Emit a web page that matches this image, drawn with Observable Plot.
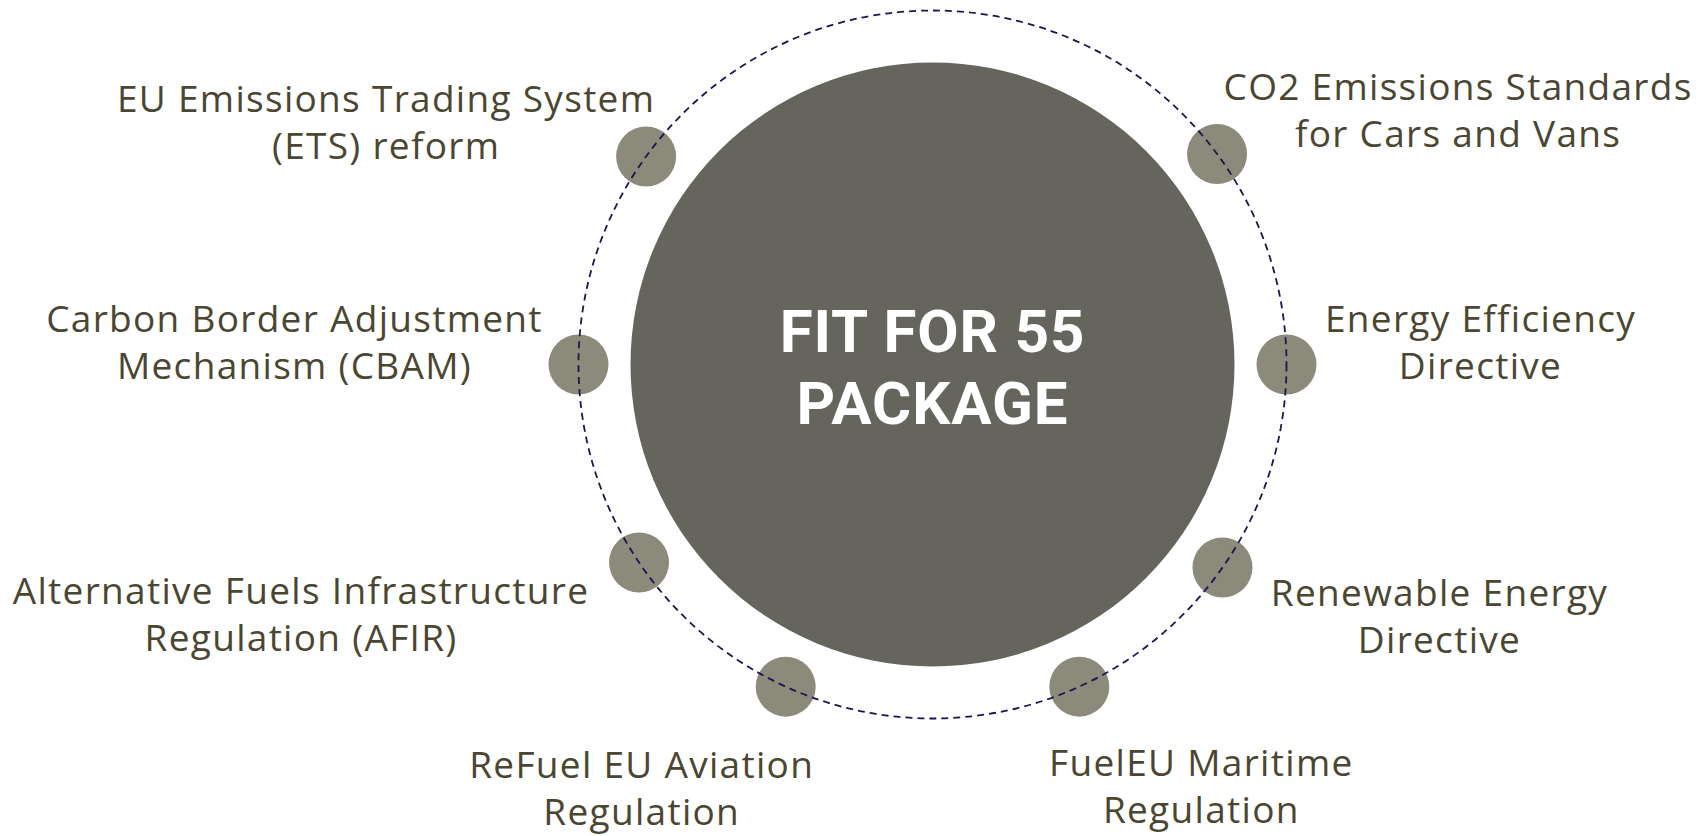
<!DOCTYPE html>
<html>
<head>
<meta charset="utf-8">
<script src="https://cdn.jsdelivr.net/npm/d3@7"></script>
<script src="https://cdn.jsdelivr.net/npm/@observablehq/plot@0.6"></script>
<style>
  html, body { margin: 0; padding: 0; background: #ffffff; }
  #chart svg { display: block; }
</style>
</head>
<body>
<div id="chart"></div>
<script>
// ---- data ----
const policies = [
  "EU Emissions Trading System\n(ETS) reform",
  "CO2 Emissions Standards\nfor Cars and Vans",
  "Carbon Border Adjustment\nMechanism (CBAM)",
  "Energy Efficiency\nDirective",
  "Alternative Fuels Infrastructure\nRegulation (AFIR)",
  "Renewable Energy\nDirective",
  "ReFuel EU Aviation\nRegulation",
  "FuelEU Maritime\nRegulation"
];
// angular position of each policy on the ring (degrees, counter-clockwise from 3 o'clock)
const anglesDeg = [144, 36.5, 180, 0, 214, 325, 245.5, 294.5];
const centreTitle = ["FIT FOR 55\nPACKAGE"];

// ---- layout (pixels) ----
const W = 1700, H = 836;
const CX = 932, CY = 364;     // centre of the ring
const R = 354;                // ring radius
const discR = 302, nodeR = 30;
const labelFont = 37;
// label centre offset from its node, px (right, down)
const labelOffset = [[-260, -36], [241, -45], [-284, -24], [194, -24], [-338, 50], [217, 47], [-144, 100], [122, 98]];

const nodes = policies.map((label, i) => {
  const a = anglesDeg[i] * Math.PI / 180;
  return {
    label,
    x: Math.cos(a), y: Math.sin(a),
    lx: Math.cos(a) + labelOffset[i][0] / R,
    ly: Math.sin(a) - labelOffset[i][1] / R
  };
});
const centre = [{x: 0, y: 0}];

const chart = Plot.plot({
  width: W, height: H,
  margin: 0,
  x: {domain: [-CX / R, (W - CX) / R], axis: null},
  y: {domain: [-(H - CY) / R, CY / R], axis: null},
  style: {background: "#ffffff"},
  marks: [
    Plot.dot(centre, {x: "x", y: "y", r: discR, fill: "#65655d", stroke: null}),
    Plot.dot(nodes, {x: "x", y: "y", r: nodeR, fill: "#8c8a7b", stroke: null}),
    Plot.dot(centre, {x: "x", y: "y", r: R, fill: "none", stroke: "#1c1650", strokeWidth: 1.8, strokeDasharray: "7,5"}),
    Plot.text(nodes, {
      x: "lx", y: "ly", text: "label",
      fontFamily: "'Open Sans', sans-serif", fontSize: labelFont, fontWeight: 400,
      lineHeight: 1.27, fill: "#4b4631", textAnchor: "middle"
    }),
    Plot.text(centreTitle, {
      x: () => 0, y: () => 0, text: d => d,
      fontFamily: "Roboto, sans-serif", fontSize: 60, fontWeight: 700,
      lineHeight: 1.2, fill: "#ffffff", textAnchor: "middle"
    })
  ]
});
const textGroups = chart.querySelectorAll('g[aria-label="text"]');
if (textGroups[0]) textGroups[0].style.letterSpacing = "1.3px";
if (textGroups[1]) textGroups[1].style.letterSpacing = "0.9px";
document.getElementById("chart").appendChild(chart);
</script>
</body>
</html>
